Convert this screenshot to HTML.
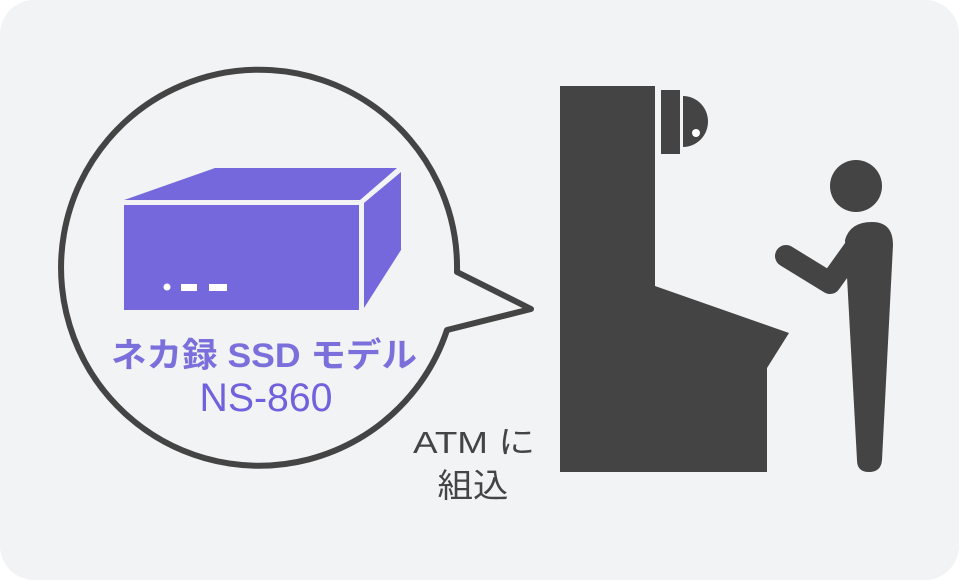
<!DOCTYPE html>
<html><head><meta charset="utf-8"><style>
html,body{margin:0;padding:0;background:#fff;width:959px;height:580px;overflow:hidden}
</style></head><body>
<svg width="959" height="580" viewBox="0 0 959 580" xmlns="http://www.w3.org/2000/svg">
<rect x="0" y="0" width="959" height="580" rx="34" fill="#f2f3f5"/>
<!-- bubble -->
<path d="M457,272 A198,198 0 1 0 447,330 L531,309 Z" fill="#f2f3f5" stroke="#444" stroke-width="6" stroke-linejoin="round"/>
<!-- box -->
<polygon points="124,200 215,168 397,168 360,200" fill="#7468dc"/>
<rect x="124" y="205" width="235" height="105" fill="#7468dc"/>
<polygon points="364,203 401,172 401,250 364,308" fill="#7468dc"/>
<circle cx="167" cy="287" r="3.5" fill="#fff"/>
<rect x="181" y="284" width="16" height="7" fill="#fff"/>
<rect x="209" y="284" width="18" height="7" fill="#fff"/>
<text x="264" y="367" text-anchor="middle" font-family="Liberation Sans, Noto Sans CJK JP, sans-serif" font-size="34" font-weight="bold" fill="#7b6fdc" textLength="306" lengthAdjust="spacingAndGlyphs">ネカ録 SSD モデル</text>
<text x="266" y="411" text-anchor="middle" font-family="Liberation Sans, Noto Sans CJK JP, sans-serif" font-size="40" fill="#6f62dc" textLength="133" lengthAdjust="spacingAndGlyphs">NS-860</text>
<text x="474" y="453" text-anchor="middle" font-family="Liberation Sans, Noto Sans CJK JP, sans-serif" font-size="31" fill="#444" textLength="122" lengthAdjust="spacingAndGlyphs">ATM に</text>
<text x="473" y="497" text-anchor="middle" font-family="Liberation Sans, Noto Sans CJK JP, sans-serif" font-size="33" fill="#444" textLength="71" lengthAdjust="spacingAndGlyphs">組込</text>
<!-- ATM -->
<polygon points="560,86 655,86 655,286 789,333 767,368 767,472 560,472" fill="#444"/>
<rect x="661" y="90" width="19" height="64" fill="#444"/>
<path d="M683,96 A25,25.5 0 0 1 683,147 Z" fill="#444"/>
<circle cx="696" cy="133" r="4" fill="#fff"/>
<!-- person -->
<circle cx="856" cy="186" r="26" fill="#444"/>
<path d="M845,240 Q850,222 872,222 Q893,222 893,245 L882,460 Q881,472 869,472 Q857,472 857,460 Z" fill="#444"/>
<polyline points="786,256 830,283 855,248" fill="none" stroke="#444" stroke-width="22" stroke-linecap="round" stroke-linejoin="round"/>
</svg>
</body></html>
